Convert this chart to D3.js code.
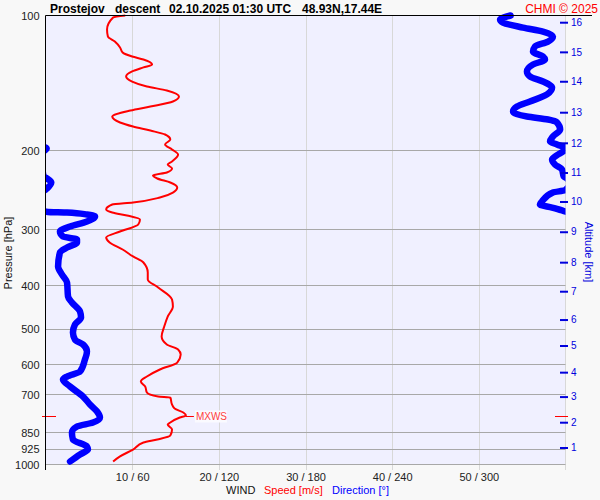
<!DOCTYPE html>
<html><head><meta charset="utf-8">
<script src="https://cdn.jsdelivr.net/npm/d3@7"></script>
<style>
body{margin:0;background:#f8f8f8;}
svg{display:block;font-family:"Liberation Sans",Arial,sans-serif;}
</style>
</head><body>
<svg id="c" width="600" height="500"></svg>
<script>
// ---- data ----
const pressureTicks = [100,200,300,400,500,600,700,850,925,1000];
const speedTicks = [10,20,30,40,50];
const directionTicks = [60,120,180,240,300];
const altitudeKm = [1,2,3,4,5,6,7,8,9,10,11,12,13,14,15,16];
const altitudePressure = [916.6,805.0,705.9,622.8,543.2,475.5,411.2,354.3,303.1,259.6,223.7,192.1,164.2,140.1,120.5,103.5];

const speedPressure = [100,101.0,107.4,111.4,114.3,117.8,120.9,123.4,125.3,128.6,130.5,133.2,136.7,140.3,143.9,146.9,151.5,155.4,159.5,162.8,167.9,173.1,176.7,180.4,184.1,188.9,193.8,198.8,204.0,211.4,214.7,219.2,223.7,227.2,230.7,235.5,241.6,247.9,254.3,260.9,263.6,270.4,274.6,278.9,284.7,292.1,302.7,312.2,320.3,332.0,344.1,354.9,373.6,387.2,403.5,429.1,444.8,468.2,492.8,518.8,540.5,554.5,569.0,592.8,614.4,636.9,653.4,670.4,691.4,705.7,709.4,735.3,750.5,766.0,777.9,785.9,806.4,814.7,835.8,862.0,879.8,893.5,926.2,959.4,984.8];
const speedValues = [9.2,7.8,7.1,7.2,8.0,8.6,8.9,10.0,11.3,12.3,11.3,10.0,9.3,10.0,11.7,14.0,15.4,14.7,12.1,9.8,7.7,8.6,10.1,12.1,13.8,14.4,13.8,14.6,15.3,14.6,14.1,14.6,14.0,12.4,12.9,14.4,15.2,14.7,13.2,10.1,7.7,7.0,7.7,9.4,10.9,10.7,8.6,7.0,7.4,8.9,10.1,11.3,11.8,11.8,13.0,14.6,14.7,14.1,13.7,13.4,14.0,15.3,15.6,15.2,13.2,11.7,11.0,11.5,11.7,13.0,14.4,14.6,14.9,15.9,16.2,15.5,14.4,14.1,14.6,14.4,12.9,11.3,10.1,8.6,7.8];

const dirPressure = [100,102.1,103.7,106.4,108.6,111.4,114.3,117.2,120.3,123.4,125.3,128.6,133.2,136.7,140.3,144.7,149.9,155.4,159.5,163.6,167.9,170.5,173.1,179.4,186.0,190.8,193.8,197.8,204.0,209.3,214.7,220.3,228.3,230.7,235.5,242.8,245.0,247.9,259.6,263.6,267.7,271.8,273.9,274.6,277.5,280.3,287.6,295.1,302.7,310.6,315.4,320.3,328.6,337.2,362.2,377.4,393.2,422.5,435.7,456.3,470.6,487.8,508.2,526.8,540.5,560.3,583.7,620.8,636.9,646.8,670.4,705.7,735.3,762.1,785.9,806.4,823.1,848.8,879.8,912.0,926.2,949.6,984.8];
const dirValues = [322,314.7,316.7,330.6,344.4,351.3,347.9,338.9,337.5,344.4,345.8,337.5,333.3,335.4,344.4,350.7,347.2,335.4,326.4,323.7,333.3,347.9,354.1,356.3,351.3,349.3,354.1,0.8,354.8,350.7,352.7,357.6,358.8,1.0,4.0,1.0,359.5,351.3,343.7,342.3,350.7,357.6,1.7,14.9,28.7,34.3,28.7,17.0,10.0,12.1,21.8,21.8,14.9,10.0,8.7,11.4,14.9,15.6,18.3,23.9,24.6,20.4,19.0,20.4,26.0,28.7,27.3,23.9,14.9,12.1,17.0,26.0,30.8,35.7,37.7,32.9,21.8,18.3,19.0,28.7,29.4,23.9,17.0];

const maxWindPressure = 777.9;
const maxWindLabel = "MXWS";
const titleParts = ["Prostejov","descent","02.10.2025 01:30 UTC","48.93N,17.44E"];
const creditText = "CHMI \u00A9 2025";

// ---- layout ----
const L = 45.5, R = 565.5, T = 15.5, B = 464.5;
const svg = d3.select("#c");
const y = d3.scaleLog().domain([100,1000]).range([T,B]);
const xs = d3.scaleLinear().domain([0,60]).range([L,R]);
const xd = d3.scaleLinear().domain([0,360]).range([L,R]);

svg.append("rect").attr("x",0).attr("y",0).attr("width",600).attr("height",500).attr("fill","#f8f8f8");
svg.append("rect").attr("x",L).attr("y",T).attr("width",R-L).attr("height",B-T).attr("fill","#f0f0ff");

// vertical gridlines
svg.append("g").selectAll("line").data(speedTicks).join("line")
  .attr("x1",d=>Math.round(xs(d))+0.5).attr("x2",d=>Math.round(xs(d))+0.5)
  .attr("y1",T).attr("y2",470).attr("stroke","#d8d8d8").attr("stroke-width",1);
// right border
svg.append("line").attr("x1",R).attr("x2",R).attr("y1",T).attr("y2",470).attr("stroke","#d8d8d8");
// horizontal gridlines
svg.append("g").selectAll("line").data(pressureTicks.filter(p=>p>100)).join("line")
  .attr("x1",L).attr("x2",R).attr("y1",d=>Math.round(y(d)-0.5)+0.5).attr("y2",d=>Math.round(y(d)-0.5)+0.5)
  .attr("stroke","#a8a8a8").attr("stroke-width",1);

// clip for direction wrap
svg.append("clipPath").attr("id","clipx").append("rect")
  .attr("x",L).attr("y",0).attr("width",R-L).attr("height",480);

// direction line (unwrapped then drawn with +-360 copies)
const unwrapped = [];
dirValues.forEach((d,i)=>{
  if(i===0){unwrapped.push(d);return;}
  const prev = unwrapped[i-1]; let v = d;
  while(v-prev>180) v-=360;
  while(v-prev<-180) v+=360;
  unwrapped.push(v);
});
const dirData = dirPressure.map((p,i)=>({p, d:unwrapped[i]}));
const gDir = svg.append("g").attr("clip-path","url(#clipx)");
[-360,0,360].forEach(off=>{
  gDir.append("path").datum(dirData)
    .attr("d", d3.line().x(d=>xd(d.d+off)).y(d=>y(d.p)).curve(d3.curveMonotoneY))
    .attr("fill","none").attr("stroke","#0000ff").attr("stroke-width",6.5)
    .attr("stroke-linecap","round").attr("stroke-linejoin","round");
});

// speed line
const spdData = speedPressure.map((p,i)=>({p, s:speedValues[i]}));
svg.append("path").datum(spdData)
  .attr("d", d3.line().x(d=>xs(d.s)).y(d=>y(d.p)).curve(d3.curveMonotoneY))
  .attr("fill","none").attr("stroke","#ff0000").attr("stroke-width",2)
  .attr("stroke-linejoin","round");

// MXWS marker
const maxS = speedValues[speedPressure.indexOf(maxWindPressure)];
const ym = Math.round(y(maxWindPressure))+0.5;
svg.append("line").attr("x1",xs(maxS)).attr("x2",xs(maxS)+8).attr("y1",ym).attr("y2",ym).attr("stroke","#ff0000");
svg.append("rect").attr("x",xs(maxS)+9).attr("y",ym-6).attr("width",32).attr("height",12).attr("fill","#fafaff");
svg.append("text").attr("x",xs(maxS)+10).attr("y",ym+3.5).attr("font-size",10).attr("fill","#ff4040").text(maxWindLabel);
svg.append("line").attr("x1",42).attr("x2",56).attr("y1",ym).attr("y2",ym).attr("stroke","#ff0000");
svg.append("line").attr("x1",555).attr("x2",568).attr("y1",ym).attr("y2",ym).attr("stroke","#ff0000");

// top line & left axis line
svg.append("line").attr("x1",L).attr("x2",592).attr("y1",T).attr("y2",T).attr("stroke","#000");
svg.append("line").attr("x1",L).attr("x2",L).attr("y1",T).attr("y2",470).attr("stroke","#000");

// left axis (pressure)
const ax = svg.append("g").attr("transform",`translate(${L},0)`)
  .call(d3.axisLeft(y).tickValues(pressureTicks).tickFormat(d3.format("d")).tickSize(0).tickPadding(6));
ax.select(".domain").remove();
ax.selectAll("text").attr("font-size",11).attr("fill","#222").attr("font-family","Liberation Sans, Arial, sans-serif");

// bottom axis (speed / direction)
const bx = svg.append("g").attr("transform",`translate(0,${B})`)
  .call(d3.axisBottom(xs).tickValues(speedTicks).tickFormat((d,i)=>`${d} / ${directionTicks[i]}`).tickSize(0).tickPadding(9));
bx.select(".domain").remove();
bx.selectAll("text").attr("font-size",11).attr("fill","#222").attr("font-family","Liberation Sans, Arial, sans-serif");

// right axis (altitude)
const rx = svg.append("g").attr("transform","translate(560,0)")
  .call(d3.axisRight(y).tickValues(altitudePressure).tickFormat((d,i)=>altitudeKm[i]).tickSize(8).tickPadding(3));
rx.select(".domain").remove();
rx.selectAll("line").attr("stroke","#0000dd").attr("stroke-width",2);
rx.selectAll("text").attr("font-size",10).attr("fill","#0000dd").attr("font-family","Liberation Sans, Arial, sans-serif");

// axis titles
svg.append("text").attr("transform","translate(12,253) rotate(-90)").attr("text-anchor","middle")
  .attr("font-size",11).attr("fill","#111").text("Pressure [hPa]");
svg.append("text").attr("transform","translate(585,252) rotate(90)").attr("text-anchor","middle")
  .attr("font-size",11).attr("fill","#0000dd").text("Altitude [km]");

// legend
const leg = svg.append("text").attr("y",494).attr("font-size",11);
svg.append("text").attr("x",226).attr("y",494).attr("font-size",11).attr("fill","#111").text("WIND");
svg.append("text").attr("x",264).attr("y",494).attr("font-size",11).attr("fill","#ff0000").text("Speed [m/s]");
svg.append("text").attr("x",332).attr("y",494).attr("font-size",11).attr("fill","#0000ff").text("Direction [\u00B0]");

// title
const tx = [50,115,169,302];
titleParts.forEach((t,i)=>svg.append("text").attr("x",tx[i]).attr("y",12.5)
  .attr("font-size",12).attr("font-weight","bold").attr("fill","#000").text(t));
svg.append("text").attr("x",598).attr("y",12.5).attr("text-anchor","end")
  .attr("font-size",12).attr("fill","#ff0000").text(creditText);
</script>
</body></html>
